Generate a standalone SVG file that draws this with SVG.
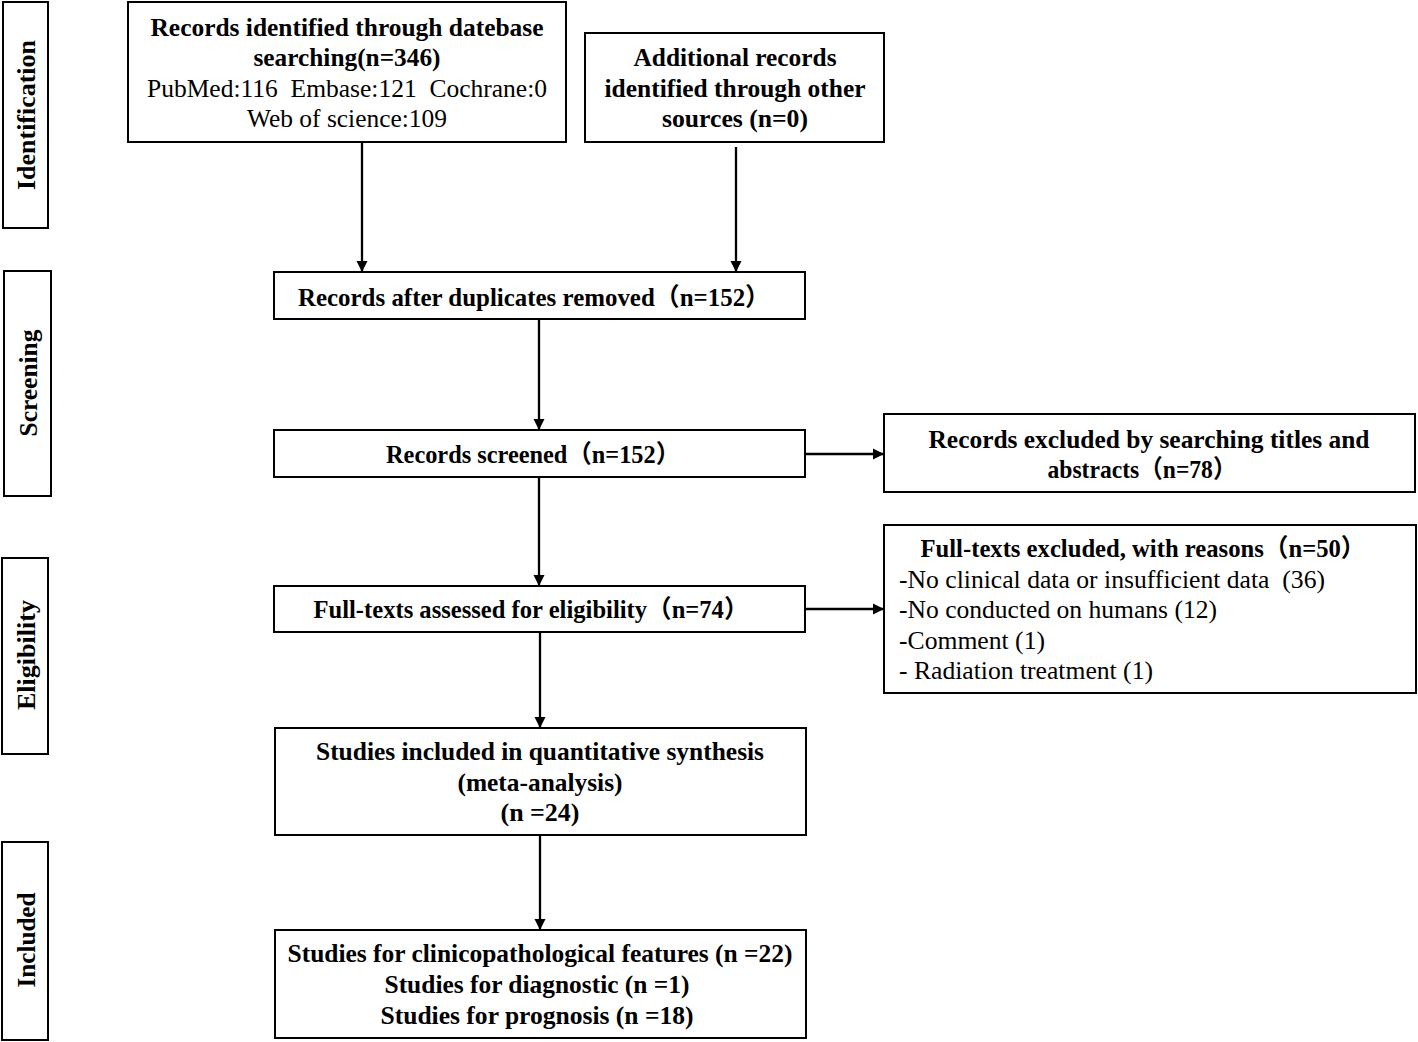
<svg xmlns="http://www.w3.org/2000/svg" width="1418" height="1042" viewBox="0 0 1418 1042">
<style>
.box{fill:#fff;stroke:#000;stroke-width:2}
.b{font-family:"Times New Roman","Liberation Serif",Tinos,"Noto Sans CJK SC",serif;font-weight:bold;font-size:25px;fill:#000;text-anchor:middle}
.r{font-family:"Times New Roman","Liberation Serif",Tinos,"Noto Sans CJK SC",serif;font-size:25px;fill:#000;text-anchor:middle}
.l{font-family:"Times New Roman","Liberation Serif",Tinos,serif;font-size:25px;fill:#000;text-anchor:start}
.side{font-family:"Times New Roman","Liberation Serif",Tinos,serif;font-weight:bold;font-size:26px;fill:#000;text-anchor:middle}
.conn{stroke:#000;stroke-width:2.3;fill:none;marker-end:url(#ah)}
</style>
<defs>
<marker id="ah" viewBox="0 0 10 10" refX="10" refY="5" markerWidth="5" markerHeight="5" orient="auto" markerUnits="strokeWidth">
<path d="M0,0 L10,5 L0,10 z" fill="#000"/>
</marker>
</defs>
<rect width="1418" height="1042" fill="#fff"/>
<g id="phases">
<g id="phase-identification"><rect class="box" x="3" y="2" width="45" height="226"/><text class="side" transform="translate(35,115) rotate(-90)" textLength="150" lengthAdjust="spacingAndGlyphs">Identification</text></g>
<g id="phase-screening"><rect class="box" x="4" y="271" width="47" height="225"/><text class="side" transform="translate(37,383) rotate(-90)" textLength="107" lengthAdjust="spacingAndGlyphs">Screening</text></g>
<g id="phase-eligibility"><rect class="box" x="2" y="558" width="46" height="196"/><text class="side" transform="translate(35,655) rotate(-90)" textLength="110" lengthAdjust="spacingAndGlyphs">Eligibility</text></g>
<g id="phase-included"><rect class="box" x="2" y="842" width="46" height="198"/><text class="side" transform="translate(35,940) rotate(-90)" textLength="95" lengthAdjust="spacingAndGlyphs">Included</text></g>
</g>
<g id="connectors">
<line class="conn" x1="362" y1="143" x2="362" y2="272"/>
<line class="conn" x1="736" y1="147" x2="736" y2="272"/>
<line class="conn" x1="539" y1="320" x2="539" y2="430"/>
<line class="conn" x1="539" y1="478" x2="539" y2="586"/>
<line class="conn" x1="540" y1="633" x2="540" y2="728"/>
<line class="conn" x1="540" y1="836" x2="540" y2="930"/>
<line class="conn" x1="805" y1="454" x2="884" y2="454"/>
<line class="conn" x1="805" y1="609" x2="884" y2="609"/>
</g>
<g id="n-identified">
<rect class="box" x="128" y="2" width="438" height="140"/>
<text class="b" x="347" y="36" textLength="393" lengthAdjust="spacingAndGlyphs">Records identified through datebase</text>
<text class="b" x="347" y="66" textLength="187" lengthAdjust="spacingAndGlyphs">searching(n=346)</text>
<text class="r" x="347" y="97" textLength="400" lengthAdjust="spacingAndGlyphs" xml:space="preserve">PubMed:116  Embase:121  Cochrane:0</text>
<text class="r" x="347" y="127" textLength="200" lengthAdjust="spacingAndGlyphs">Web of science:109</text>
</g>
<g id="n-additional">
<rect class="box" x="585" y="33" width="299" height="109"/>
<text class="b" x="735" y="66" textLength="203" lengthAdjust="spacingAndGlyphs">Additional records</text>
<text class="b" x="735" y="97" textLength="261" lengthAdjust="spacingAndGlyphs">identified through other</text>
<text class="b" x="735" y="127" textLength="146" lengthAdjust="spacingAndGlyphs">sources (n=0)</text>
</g>
<g id="n-duplicates">
<rect class="box" x="274" y="272" width="531" height="47"/>
<text class="b" x="534" y="306" textLength="472" lengthAdjust="spacingAndGlyphs">Records after duplicates removed（n=152）</text>
</g>
<g id="n-screened">
<rect class="box" x="274" y="430" width="531" height="47"/>
<text class="b" x="533" y="463" textLength="294" lengthAdjust="spacingAndGlyphs">Records screened（n=152）</text>
</g>
<g id="n-excluded">
<rect class="box" x="884" y="414" width="531" height="78"/>
<text class="b" x="1149" y="448" textLength="441" lengthAdjust="spacingAndGlyphs">Records excluded by searching titles and</text>
<text class="b" x="1142" y="478" textLength="189" lengthAdjust="spacingAndGlyphs">abstracts（n=78）</text>
</g>
<g id="n-fulltext">
<rect class="box" x="274" y="586" width="531" height="46"/>
<text class="b" x="531" y="618" textLength="435" lengthAdjust="spacingAndGlyphs">Full-texts assessed for eligibility（n=74）</text>
</g>
<g id="n-fulltext-excluded">
<rect class="box" x="884" y="525" width="532" height="168"/>
<text class="b" x="1143" y="557" textLength="445" lengthAdjust="spacingAndGlyphs">Full-texts excluded, with reasons（n=50）</text>
<text class="l" x="899" y="588" textLength="426" lengthAdjust="spacingAndGlyphs" xml:space="preserve">-No clinical data or insufficient data  (36)</text>
<text class="l" x="899" y="618" textLength="318" lengthAdjust="spacingAndGlyphs">-No conducted on humans (12)</text>
<text class="l" x="899" y="649" textLength="146" lengthAdjust="spacingAndGlyphs">-Comment (1)</text>
<text class="l" x="899" y="679" textLength="254" lengthAdjust="spacingAndGlyphs">- Radiation treatment (1)</text>
</g>
<g id="n-included">
<rect class="box" x="275" y="728" width="531" height="107"/>
<text class="b" x="540" y="760" textLength="448" lengthAdjust="spacingAndGlyphs">Studies included in quantitative synthesis</text>
<text class="b" x="540" y="791" textLength="165" lengthAdjust="spacingAndGlyphs">(meta-analysis)</text>
<text class="b" x="540" y="821" textLength="79" lengthAdjust="spacingAndGlyphs">(n =24)</text>
</g>
<g id="n-studies">
<rect class="box" x="275" y="930" width="531" height="108"/>
<text class="b" x="540" y="962" textLength="505" lengthAdjust="spacingAndGlyphs">Studies for clinicopathological features (n =22)</text>
<text class="b" x="537" y="993" textLength="305" lengthAdjust="spacingAndGlyphs">Studies for diagnostic (n =1)</text>
<text class="b" x="537" y="1024" textLength="313" lengthAdjust="spacingAndGlyphs">Studies for prognosis (n =18)</text>
</g>
</svg>
